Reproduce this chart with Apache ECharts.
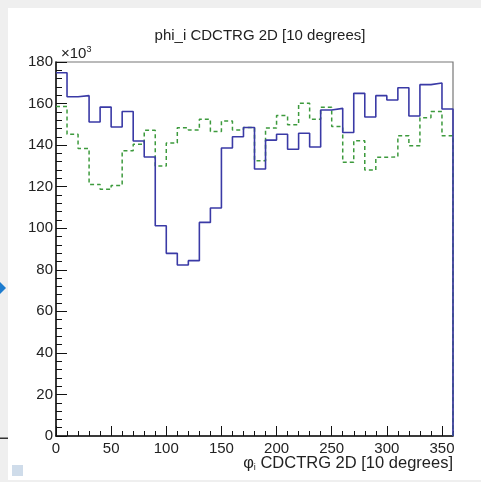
<!DOCTYPE html>
<html>
<head>
<meta charset="utf-8">
<script src="https://cdn.jsdelivr.net/npm/echarts@6/dist/echarts.min.js"></script>
<style>
  html, body { margin: 0; padding: 0; background: #efefef; }
  #chart { width: 481px; height: 482px; }
</style>
</head>
<body>
<div id="chart"></div>
<script>
// bins of 10 degrees, 0..360
const binWidth = 10
const binStarts = [0, 10, 20, 30, 40, 50, 60, 70, 80, 90, 100, 110, 120, 130, 140, 150, 160, 170,
  180, 190, 200, 210, 220, 230, 240, 250, 260, 270, 280, 290, 300, 310, 320, 330, 340, 350]

// counts in units of 10^3
const blueCounts = [174.8, 163.3, 163.8, 151.1, 158.3, 148.7, 156.2, 142.0, 134.3, 101.2, 87.9, 82.3,
  84.4, 102.8, 109.7, 138.6, 144.0, 148.5, 128.5, 142.4, 145.2, 138.0, 145.7, 139.1,
  156.9, 157.7, 146.1, 164.9, 153.5, 163.8, 161.7, 167.6, 154.0, 169.1, 169.9, 157.4]
const greenCounts = [158.6, 145.2, 138.4, 121.1, 118.7, 120.6, 137.3, 140.4, 147.1, 129.9, 141.0, 148.4,
  147.3, 152.5, 146.6, 151.6, 147.3, 148.5, 132.5, 148.2, 154.2, 149.8, 160.1, 152.4,
  158.2, 148.9, 131.7, 142.1, 128.0, 134.1, 134.4, 144.5, 139.7, 153.2, 156.2, 144.5]

const yTicks = [0, 20, 40, 60, 80, 100, 120, 140, 160, 180]
const xTicks = [0, 50, 100, 150, 200, 250, 300, 350]

const fontFamily = '"Liberation Sans", Arial, sans-serif'

// histogram outline: left edge of each bin, then close at the last edge and drop to 0
const histData = (counts) => {
  const pts = binStarts.map((x, i) => [x, counts[i]])
  const last = binStarts[binStarts.length - 1] + binWidth
  pts.push([last, counts[counts.length - 1]])
  pts.push([last, 0])
  return pts
}

const chart = echarts.init(document.getElementById('chart'))

chart.setOption({
  animation: false,
  backgroundColor: 'transparent',
  title: {
    text: 'phi_i CDCTRG 2D [10 degrees]',
    left: 255,
    textAlign: 'center',
    top: 23,
    textStyle: { fontFamily, fontSize: 15, fontWeight: 'normal', color: '#222' }
  },
  grid: {
    left: 56,
    right: 28,
    top: 62,
    bottom: 46,
    show: true,
    borderColor: '#777',
    borderWidth: 1.2,
    backgroundColor: 'transparent'
  },
  xAxis: [
    {
      type: 'value',
      min: 0,
      max: 360,
      interval: 50,
      splitLine: { show: false },
      axisLine: { lineStyle: { color: '#111', width: 1.5 } },
      axisTick: { inside: true, length: 10, lineStyle: { color: '#111' } },
      axisLabel: {
        margin: 5,
        fontFamily,
        fontSize: 15,
        color: '#222',
        showMaxLabel: false,
        formatter: (v) => (xTicks.includes(v) ? String(v) : '')
      }
    },
    {
      type: 'value',
      min: 0,
      max: 360,
      interval: binWidth,
      position: 'bottom',
      splitLine: { show: false },
      axisLine: { show: false },
      axisTick: { inside: true, length: 5, lineStyle: { color: '#111' } },
      axisLabel: { show: false }
    }
  ],
  yAxis: {
    type: 'value',
    min: 0,
    max: 180,
    interval: 20,
    splitLine: { show: false },
    axisLine: { show: true, lineStyle: { color: '#111', width: 1.5 } },
    axisTick: { show: true, inside: true, length: 11, lineStyle: { color: '#111' } },
    minorTick: { show: true, splitNumber: 5, length: 6, lineStyle: { color: '#111' } },
    axisLabel: {
      margin: 3,
      fontFamily,
      fontSize: 15,
      color: '#222',
      formatter: (v) => (yTicks.includes(v) ? String(v) : '')
    }
  },
  graphic: [
    // white pad
    { type: 'rect', z: -10, shape: { x: 8, y: 8, width: 473, height: 472 }, style: { fill: '#fff' } },
    // bits of the surrounding page
    { type: 'polygon', shape: { points: [[0, 282], [6, 288], [0, 294]] }, style: { fill: '#1d7ccf' } },
    { type: 'rect', shape: { x: 0, y: 437.5, width: 8, height: 1.5 }, style: { fill: '#333' } },
    { type: 'rect', shape: { x: 12, y: 465, width: 11, height: 11 }, style: { fill: '#cfdcea' } },
    // exponent label
    {
      type: 'text',
      x: 61,
      y: 54,
      style: {
        text: '{m|×10}{s|3}',
        textVerticalAlign: 'middle',
        rich: {
          m: { fontFamily, fontSize: 15, fill: '#222' },
          s: { fontFamily, fontSize: 9, fill: '#222', verticalAlign: 'top', padding: [0, 0, 9, 0] }
        }
      }
    },
    // x axis title
    {
      type: 'text',
      x: 453,
      y: 463,
      style: {
        text: '{m|φ}{s|i}{m| CDCTRG 2D [10 degrees]}',
        textAlign: 'right',
        textVerticalAlign: 'middle',
        rich: {
          m: { fontFamily, fontSize: 16.5, fill: '#222' },
          s: { fontFamily, fontSize: 9, fill: '#222', padding: [9, 0, 0, 0] }
        }
      }
    }
  ],
  series: [
    {
      name: 'green',
      type: 'line',
      step: 'end',
      xAxisIndex: 0,
      data: histData(greenCounts),
      showSymbol: false,
      lineStyle: { color: '#3d9a3d', width: 1.5, type: [4, 3] }
    },
    {
      name: 'blue',
      type: 'line',
      step: 'end',
      xAxisIndex: 0,
      data: histData(blueCounts),
      showSymbol: false,
      lineStyle: { color: '#3a3aa6', width: 1.6 }
    }
  ]
})
</script>
</body>
</html>
